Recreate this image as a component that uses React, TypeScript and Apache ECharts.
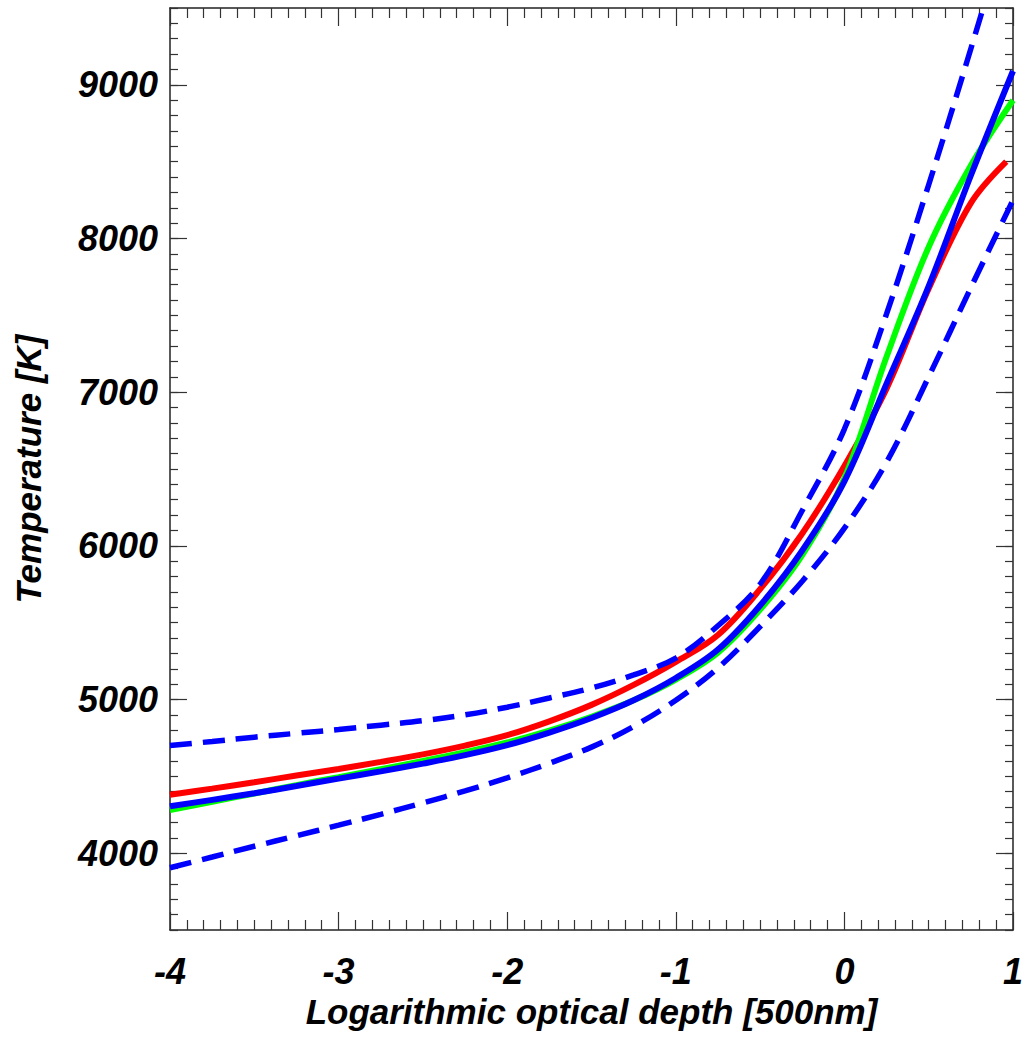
import React, { useEffect, useRef } from "react";
import * as echarts from "echarts";

// Logarithmic optical depth grid (500 nm)
const tau = [-4, -3.75, -3.5, -3.25, -3, -2.75, -2.5, -2.25, -2, -1.75, -1.5, -1.25, -1, -0.75, -0.5, -0.25, 0, 0.25, 0.5, 0.75, 1];
const tauRed = [-4, -3.75, -3.5, -3.25, -3, -2.75, -2.5, -2.25, -2, -1.75, -1.5, -1.25, -1, -0.75, -0.5, -0.25, 0, 0.25, 0.5, 0.75, 0.96];

// Temperatures [K]
const redT = [4380, 4420, 4462, 4505, 4548, 4594, 4643, 4700, 4768, 4858, 4965, 5095, 5245, 5420, 5718, 6080, 6520, 7023, 7675, 8230, 8500];
const greenT = [4280, 4335, 4388, 4443, 4495, 4547, 4600, 4657, 4720, 4797, 4888, 4995, 5130, 5305, 5585, 5940, 6440, 7230, 7945, 8475, 8900];
const blueT = [4305, 4347, 4390, 4437, 4485, 4532, 4583, 4638, 4703, 4785, 4880, 4995, 5140, 5325, 5612, 5970, 6420, 7055, 7690, 8410, 9090];
const upperT = [4700, 4727, 4755, 4780, 4805, 4833, 4862, 4900, 4950, 5010, 5075, 5160, 5270, 5480, 5750, 6230, 6760, 7510, 8350, 9235, 10150];
const lowerT = [3905, 3975, 4045, 4113, 4182, 4253, 4327, 4405, 4490, 4585, 4690, 4825, 4995, 5205, 5475, 5770, 6115, 6545, 7100, 7680, 8250];

const yMajor = [4000, 5000, 6000, 7000, 8000, 9000];

const FONT = '"Liberation Sans", Arial, Helvetica, sans-serif';

const pairs = (xs: number[], ys: number[]) => xs.map((x, i) => [x, ys[i]]);

export default function App() {
  const ref = useRef<HTMLDivElement>(null);

  useEffect(() => {
    document.body.style.margin = "0";
    if (!ref.current) return;
    const chart = echarts.init(ref.current, undefined, { renderer: "svg" });

    const labelStyle = {
      fontFamily: FONT,
      fontSize: 36,
      fontWeight: "bold" as const,
      fontStyle: "italic" as const,
      color: "#000",
    };
    const titleStyle = { ...labelStyle, fontSize: 35 };
    const lineCol = "#222";
    const tickCol = "#333";

    const xBase = {
      type: "value" as const,
      min: -4,
      max: 1,
      interval: 1,
      splitLine: { show: false },
      axisLine: { show: true, onZero: false, lineStyle: { color: lineCol, width: 1.5 } },
      axisTick: { show: true, inside: true, length: 18, lineStyle: { color: tickCol, width: 1.2 } },
      minorTick: { show: true, splitNumber: 10, length: 10, lineStyle: { color: tickCol, width: 1.2 } },
    };

    const yMajorBase = {
      type: "value" as const,
      min: 3500,
      max: 9500,
      interval: 500,
      splitLine: { show: false },
      axisLine: { show: true, onZero: false, lineStyle: { color: lineCol, width: 1.5 } },
      axisTick: {
        show: true,
        inside: true,
        length: 17,
        customValues: yMajor,
        lineStyle: { color: tickCol, width: 1.2 },
      },
    };
    const yMinorBase = {
      type: "value" as const,
      min: 3500,
      max: 9500,
      interval: 100,
      splitLine: { show: false },
      axisLine: { show: false, onZero: false },
      axisLabel: { show: false },
      axisTick: { show: true, inside: true, length: 8, lineStyle: { color: tickCol, width: 1.2 } },
    };

    const solid = (name: string, color: string, xs: number[], ys: number[]) => ({
      name,
      type: "line" as const,
      data: pairs(xs, ys),
      xAxisIndex: 0,
      yAxisIndex: 0,
      showSymbol: false,
      symbol: "none",
      smooth: 0.35,
      lineStyle: { color, width: 6 },
      itemStyle: { color },
    });

    const dashed = (name: string, ys: number[]) => ({
      name,
      type: "line" as const,
      data: pairs(tau, ys),
      xAxisIndex: 0,
      yAxisIndex: 0,
      showSymbol: false,
      symbol: "none",
      smooth: 0.35,
      lineStyle: { color: "#0000ff", width: 5.5, type: [22, 11] },
      itemStyle: { color: "#0000ff" },
    });

    chart.setOption({
      animation: false,
      backgroundColor: "#ffffff",
      grid: { left: 170, right: 9, top: 8, bottom: 110, containLabel: false, outerBoundsMode: "none" },
      xAxis: [
        {
          ...xBase,
          position: "bottom",
          axisLabel: { ...labelStyle, margin: 23, formatter: (v: number) => String(v) },
          name: "Logarithmic optical depth [500nm]",
          nameLocation: "middle",
          nameGap: 63,
          nameTextStyle: { ...titleStyle },
        },
        {
          ...xBase,
          position: "top",
          axisLabel: { show: false },
        },
      ],
      yAxis: [
        {
          ...yMajorBase,
          position: "left",
          axisLabel: {
            ...labelStyle,
            margin: 12,
            customValues: yMajor,
            formatter: (v: number) => String(v),
          },
          name: "Temperature [K]",
          nameLocation: "middle",
          nameGap: 124,
          nameRotate: 90,
          nameTextStyle: { ...titleStyle },
        },
        { ...yMinorBase, position: "left" },
        { ...yMajorBase, position: "right", axisLabel: { show: false } },
        { ...yMinorBase, position: "right" },
      ],
      series: [
        solid("red", "#ff0000", tauRed, redT),
        solid("green", "#00ff00", tau, greenT),
        solid("blue", "#0000ff", tau, blueT),
        dashed("upper", upperT),
        dashed("lower", lowerT),
      ],
    });

    return () => chart.dispose();
  }, []);

  return <div ref={ref} style={{ width: 1022, height: 1040 }} />;
}
